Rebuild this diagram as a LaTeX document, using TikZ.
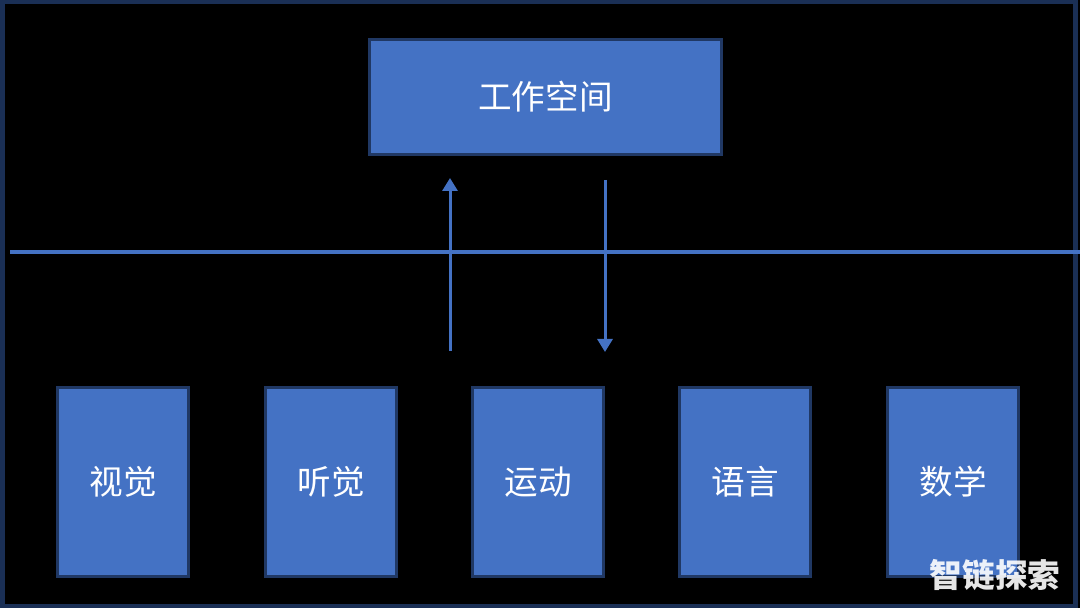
\documentclass[tikz,border=0pt]{standalone}
\usepackage{fontspec}
\setmainfont{Noto Sans CJK SC}
\newfontfamily\cjkbold{Noto Sans CJK SC Black}
\usetikzlibrary{arrows.meta}
\definecolor{boxfill}{HTML}{4472C4}
\definecolor{boxline}{HTML}{203864}
\definecolor{framecol}{HTML}{1A2F55}

\begin{document}
\begin{tikzpicture}
[ x=0.5pt, y=-0.5pt
, module/.style={rectangle, draw=boxline, fill=boxfill, line width=1.5pt, minimum width=65.5pt, minimum height=94.5pt, inner sep=0pt, text=white, font=\fontsize{16.8}{19}\selectfont}
, workspace/.style={module, minimum width=176pt, minimum height=57.5pt}
, link/.style={draw=boxfill, line width=1.5pt}
, flow/.style={link, -{Triangle[width=7.5pt,length=6.5pt]}}
, point/.style={coordinate}
]
\useasboundingbox (0,0) rectangle (1080,608);
\fill[black] (0,0) rectangle (1080,608);
\draw[framecol, line width=2.5pt] (2.5,2) rectangle (1075.5,606);
% Workspace on top
\node (ws) [workspace] at (545.5,97) {工作空间};
% Modules below
\node (vision) [module] at (123,482) {视觉};
\node (hearing) [module] at (331,482) {听觉};
\node (motion) [module] at (538,482) {运动};
\node (speech) [module] at (745,482) {语言};
\node (maths) [module] at (953,482) {数学};
% Divider and arrows
\node (d0) [point] at (10,252) {};
\node (d1) [point] at (1080,252) {};
\node (u0) [point] at (450,351) {};
\node (u1) [point] at (450,178) {};
\node (v0) [point] at (605,180) {};
\node (v1) [point] at (605,352) {};
\draw [link, line width=1.75pt] (d0) -- (d1);
\draw [flow] (u0) -- (u1);
\draw [flow] (v0) -- (v1);
% Watermark
\node (mark) [text=white, opacity=0.9, font=\cjkbold\fontsize{16.3}{18}\selectfont, inner sep=0pt] at (995,575) {智链探索};
\end{tikzpicture}
\end{document}
